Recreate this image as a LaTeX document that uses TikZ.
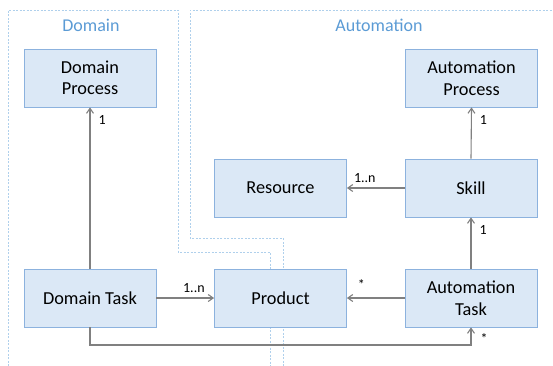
\documentclass[tikz,border=0pt]{standalone}
\usepackage{fontspec}
\setmainfont{Carlito}
\usetikzlibrary{arrows.meta}
\definecolor{boxfill}{RGB}{219,232,246}
\definecolor{boxline}{RGB}{140,178,222}
\definecolor{titleblue}{RGB}{91,155,213}
\definecolor{arrowgray}{RGB}{128,128,128}
\definecolor{regionline}{RGB}{175,208,236}
\tikzset{
  x=1pt, y=-1pt,
  entity/.style={draw=boxline, fill=boxfill, line width=0.8pt, minimum width=132pt, minimum height=58pt, inner sep=0pt, align=center, font=\fontsize{18.3}{21.5}\selectfont, text=black},
  conn/.style={draw=arrowgray, line width=1.1pt, -{Straight Barb[length=5pt,width=7pt]}},
  mult/.style={font=\fontsize{14}{16}\selectfont, text=black, inner sep=0pt},
  region/.style={draw=regionline, dash pattern=on 2pt off 1.5pt, line width=0.5pt},
  regiontitle/.style={font=\fontsize{18}{21}\selectfont, text=titleblue}
}
\begin{document}
\begin{tikzpicture}
\useasboundingbox (0,0) rectangle (553,365);
% regions
\draw[region] (8,366) -- (8,10) -- (178,10) -- (178,252) -- (270,252) -- (270,366);
\draw[region] (283,366) -- (283,238) -- (190,238) -- (190,10) -- (554,10);
\node[regiontitle] (tdom) at (91,25) {Domain};
\node[regiontitle] (taut) at (379,25) {Automation};
% entities
\node[entity] (dp) at (90,78) {Domain\\Process};
\node[entity] (ap) at (471.5,78) {Automation\\Process};
\node[entity] (res) at (280.5,188) {Resource};
\node[entity] (skill) at (471,188) {Skill};
\node[entity] (dt) at (90,298) {Domain Task};
\node[entity] (prod) at (280.5,298) {Product};
\node[entity] (at) at (471,298) {Automation\\Task};
% connectors
\draw[conn] (dt.north) -- (dp.south) node[mult, pos=0.92, right=8pt] {1};
\draw[conn] (skill.north) -- (ap.south) node[mult, pos=0.75, right=8pt] {1};
\draw[conn] (at.north) -- (skill.south) node[mult, pos=0.75, right=8pt] {1};
\draw[conn] (skill.west) -- (res.west -| res.east) node[mult, pos=0.69, above=5pt] {1..n};
\draw[conn] (dt.east) -- (prod.west) node[mult, pos=0.65, above=5pt] {1..n};
\draw[conn] (at.west) -- (prod.east) node[mult, pos=0.75, above=8pt] {*};
\coordinate (c1) at (90,345);
\coordinate (c2) at (471,345);
\draw[conn] (dt.south) -- (c1) -- (c2) -- (at.south);
\node[mult] (m7) at (484,339) {*};
\end{tikzpicture}
\end{document}
